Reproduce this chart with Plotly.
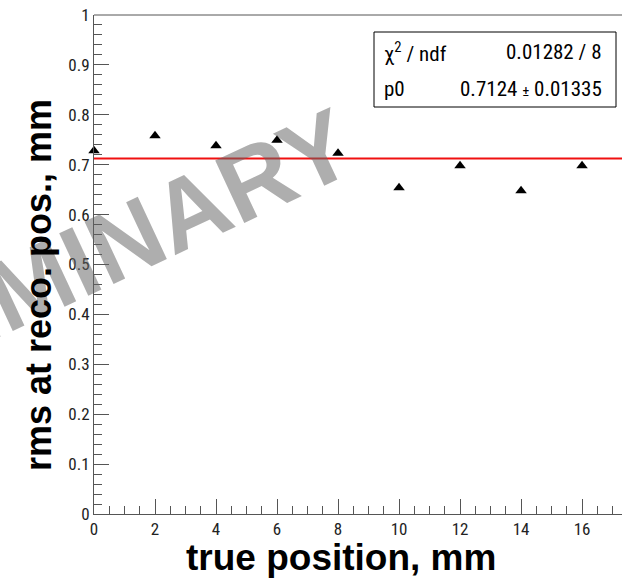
import plotly.graph_objects as go

# measured rms of the reconstructed position at each true position
true_pos = [0, 2, 4, 6, 8, 10, 12, 14, 16]
rms_mm = [0.728, 0.758, 0.738, 0.749, 0.723, 0.654, 0.698, 0.648, 0.698]

# constant (pol0) fit result
fit_p0 = 0.7124
fit_p0_err = 0.01335
fit_chi2 = 0.01282
fit_ndf = 8
fit_x = [0, 17.31]

x_ticks = [0, 2, 4, 6, 8, 10, 12, 14, 16]
y_ticks = [0, 0.1, 0.2, 0.3, 0.4, 0.5, 0.6, 0.7, 0.8, 0.9, 1]

W, H = 622, 579
ML, MR, MT, MB = 94, 0, 15, 65
PW, PH = W - ML - MR, H - MT - MB

NARROW = "Liberation Sans Narrow, Arial Narrow, Roboto Condensed, Liberation Sans, sans-serif"
BOLD = "Liberation Sans, Arial, Helvetica, sans-serif"
AXC = "#555555"


def px_x(p):
    return (p - ML) / PW


def px_y(p):
    return (H - MB - p) / PH


fig = go.Figure()

fig.add_trace(go.Scatter(
    x=fit_x, y=[fit_p0] * len(fit_x), mode="lines",
    line=dict(color="#f01010", width=2), showlegend=False, hoverinfo="skip",
))
fig.add_trace(go.Scatter(
    x=true_pos, y=rms_mm, mode="markers",
    marker=dict(symbol="triangle-up", size=10, color="black"),
    showlegend=False, cliponaxis=False,
))

axis_common = dict(
    showline=True, linecolor=AXC, linewidth=1,
    ticks="inside", tickcolor=AXC, tickwidth=1, ticklen=15,
    showgrid=False, zeroline=False,
    tickfont=dict(family=NARROW, size=17, color="#222222"),
)

fig.update_xaxes(
    range=[0, 17.31], tickvals=x_ticks, ticktext=[str(v) for v in x_ticks],
    minor=dict(ticks="inside", ticklen=8, tickcolor=AXC, tickwidth=1, dtick=0.5, tick0=0),
    **axis_common,
)
fig.update_yaxes(
    range=[0, 1], tickvals=y_ticks,
    ticktext=["0" if v == 0 else ("1" if v == 1 else f"{v:.1f}") for v in y_ticks],
    minor=dict(ticks="inside", ticklen=8, tickcolor=AXC, tickwidth=1, dtick=0.02, tick0=0),
    **axis_common,
)

shapes = [
    # top frame line
    dict(type="line", xref="paper", yref="paper", x0=0, x1=1, y0=1, y1=1,
         line=dict(color=AXC, width=1)),
    # statistics box
    dict(type="rect", xref="paper", yref="paper",
         x0=px_x(374), x1=px_x(616), y0=px_y(107), y1=px_y(32),
         line=dict(color="black", width=1), fillcolor="white", layer="above"),
]

annotations = [
    # watermark
    dict(text="<b>PRELIMINARY</b>", xref="paper", yref="paper",
         x=px_x(35), y=px_y(282), xanchor="center", yanchor="middle",
         showarrow=False, textangle=-25,
         font=dict(family=BOLD, size=100, color="rgba(100,100,100,0.52)")),
    # axis titles
    dict(text="<b>true position, mm</b>", xref="paper", yref="paper",
         x=px_x(341), y=px_y(557), xanchor="center", yanchor="middle",
         showarrow=False, font=dict(family=BOLD, size=37, color="black")),
    dict(text="<b>rms at reco. pos., mm</b>", xref="paper", yref="paper",
         x=px_x(38), y=px_y(285), xanchor="center", yanchor="middle",
         showarrow=False, textangle=-90,
         font=dict(family=BOLD, size=36, color="black")),
    # fit statistics
    dict(text="χ<sup>2</sup> / ndf", xref="paper", yref="paper",
         x=px_x(382), y=px_y(52), xanchor="left", yanchor="middle",
         showarrow=False, font=dict(family=NARROW, size=21, color="black")),
    dict(text=f"{fit_chi2:.5f} / {fit_ndf}", xref="paper", yref="paper",
         x=px_x(604), y=px_y(52), xanchor="right", yanchor="middle",
         showarrow=False, font=dict(family=NARROW, size=21, color="black")),
    dict(text="p0", xref="paper", yref="paper",
         x=px_x(382), y=px_y(89), xanchor="left", yanchor="middle",
         showarrow=False, font=dict(family=NARROW, size=21, color="black")),
    dict(text=f"{fit_p0:.4f} <span style='font-size:15px'>±</span> {fit_p0_err:.5f}",
         xref="paper", yref="paper",
         x=px_x(604), y=px_y(89), xanchor="right", yanchor="middle",
         showarrow=False, font=dict(family=NARROW, size=21, color="black")),
]

fig.update_layout(
    width=W, height=H,
    margin=dict(l=ML, r=MR, t=MT, b=MB),
    paper_bgcolor="white", plot_bgcolor="white",
    shapes=shapes, annotations=annotations,
    showlegend=False,
)

fig.write_html("out.html")
